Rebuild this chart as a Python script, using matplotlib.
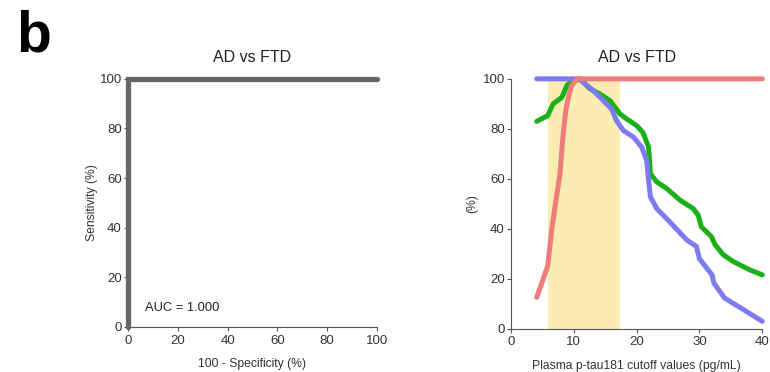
import matplotlib.pyplot as plt

plt.rcParams['font.family'] = ['Liberation Sans', 'DejaVu Sans']

# ROC curve, AD vs FTD
roc_fpr = [0, 0, 100]
roc_tpr = [0, 100, 100]
auc = 1.000

# cutoff sweep
sens_x = [4.1, 5.84, 6.5, 7.2, 7.8, 8.2, 8.7, 9.1, 9.6, 10.5, 40]
sens_y = [12.6, 25, 40, 52, 62, 75, 87, 92, 97, 100, 100]

spec_x = [4.1, 10.8, 12.8, 14.2, 16.0, 16.8, 17.9, 19.5, 20.8, 21.6, 21.9, 22.2, 23.2,
          25.0, 28.0, 29.5, 30.0, 32.0, 32.3, 34.0, 37.0, 40.0]
spec_y = [100, 100, 96, 92.6, 88, 83.3, 79.3, 76.7, 72.7, 67.4, 59.4, 52.8, 48.1,
          43.5, 35.5, 33, 28, 21.6, 18.3, 12.3, 7.7, 3]

acc_x = [4.1, 5.84, 6.7, 8.1, 8.9, 9.65, 10.2, 11.0, 12.6, 14.2, 15.8, 17.35, 18.4,
         20.0, 21.0, 21.9, 22.2, 23.2, 24.8, 26.9, 29.0, 29.8, 30.3, 31.9, 32.5,
         33.8, 35.4, 38.0, 40.0]
acc_y = [83, 85.3, 90, 92.6, 97.3, 99.2, 99.2, 100, 96, 93.9, 91.2, 86, 84,
         81.3, 78.6, 72.7, 62, 58.8, 56.1, 51.5, 48.1, 45.5, 40.8, 36.9, 33.6,
         29.6, 26.9, 23.6, 21.6]

band = (5.84, 17.35)

fig = plt.figure(figsize=(7.7, 3.72), dpi=100)
ax1 = fig.add_axes([0.1662, 0.121, 0.3234, 0.667])
ax2 = fig.add_axes([0.6636, 0.116, 0.3264, 0.672])

axis_gray = '#555555'
for ax in (ax1, ax2):
    for s in ('top', 'right'):
        ax.spines[s].set_visible(False)
    for s in ('left', 'bottom'):
        ax.spines[s].set_color(axis_gray)
        ax.spines[s].set_linewidth(0.8)
    ax.tick_params(length=3, width=0.8, color=axis_gray, labelsize=9.5,
                   labelcolor='#333333', pad=1.5)
    ax.tick_params(axis='x', pad=2.5)
    ax.set_title('AD vs FTD', fontsize=11.5, color='#222222', pad=12)

ax1.plot(roc_fpr, roc_tpr, color='#666666', lw=3.8, solid_capstyle='round',
         solid_joinstyle='miter', clip_on=False, zorder=3)
ax1.set_xlim(0, 100)
ax1.set_ylim(0, 100)
ax1.set_xticks(range(0, 101, 20))
ax1.set_yticks(range(0, 101, 20))
ax1.set_xlabel('100 - Specificity (%)', fontsize=8.7, color='#333333', labelpad=8)
ax1.set_ylabel('Sensitivity (%)', fontsize=8.7, color='#333333', labelpad=1)
ax1.text(6.8, 7.5, f'AUC = {auc:.3f}', fontsize=9.3, color='#222222', va='center')

ax2.axvspan(*band, color='#fbecb3', lw=0, zorder=0)
ax2.plot(acc_x, acc_y, color='#19b019', lw=3.6, solid_capstyle='round', clip_on=False, zorder=2)
ax2.plot(spec_x, spec_y, color='#7c7cf0', lw=3.6, solid_capstyle='round', clip_on=False, zorder=3)
ax2.plot(sens_x, sens_y, color='#f07c7a', lw=3.6, solid_capstyle='round', clip_on=False, zorder=4)
ax2.set_xlim(0, 40)
ax2.set_ylim(0, 100)
ax2.set_xticks(range(0, 41, 10))
ax2.set_yticks(range(0, 101, 20))
ax2.set_xlabel('Plasma p-tau181 cutoff values (pg/mL)', fontsize=8.7, color='#333333', labelpad=8)
ax2.set_ylabel('(%)', fontsize=8.7, color='#333333', labelpad=3)

fig.text(0.021, 0.975, 'b', fontsize=41, fontweight='bold', va='top', ha='left')

fig.savefig('out.png', dpi=100)
